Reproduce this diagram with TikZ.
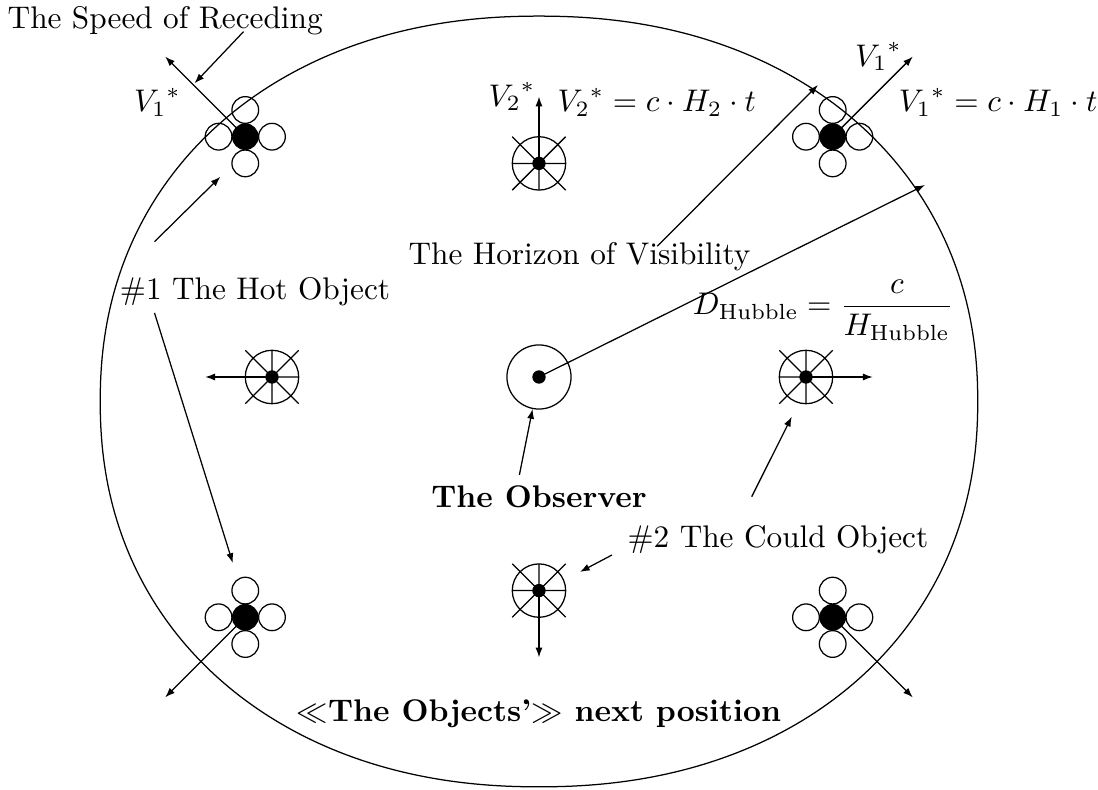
\documentclass[tikz,border=0pt]{standalone}
\usepackage{amsmath,amssymb}
\usetikzlibrary{arrows.meta}

\begin{document}
\begin{tikzpicture}[>={Latex[length=1.1mm, width=0.8mm]}]

\useasboundingbox (-6.056,-4.640) rectangle (6.281,4.236);

% Horizon of visibility
\draw plot[domain=0.5:359.5, samples=360] ({4.93*cos(\x)*pow(abs(cos(\x)),-0.07)}, {-0.275+4.33*sin(\x)*pow(abs(sin(\x)),-0.07)}) -- cycle;

% Observer
\node[circle, draw, minimum size=0.72cm, inner sep=0pt] (obs) at (0,0) {};
\fill (obs) circle (0.075);

% Cold objects
\coordinate (cT) at (0,2.4);
\coordinate (cB) at (0,-2.4);
\coordinate (cL) at (-3,0);
\coordinate (cR) at (3,0);
\foreach \c in {cT,cB,cL,cR}{
  \begin{scope}[shift={(\c)}]
    \draw (0,0) circle (0.3);
    \draw (-0.3,-0.3) -- (0.3,0.3) (-0.3,0.3) -- (0.3,-0.3) (-0.3,0) -- (0.3,0) (0,-0.3) -- (0,0.3);
    \fill (0,0) circle (0.075);
  \end{scope}
}

% Hot objects
\coordinate (hTL) at (-3.3,2.7);
\coordinate (hTR) at (3.3,2.7);
\coordinate (hBL) at (-3.3,-2.7);
\coordinate (hBR) at (3.3,-2.7);
\foreach \h in {hTL,hTR,hBL,hBR}{
  \begin{scope}[shift={(\h)}]
    \foreach \a in {0,90,180,270} \draw (\a:0.3) circle (0.15);
    \fill (0,0) circle (0.15);
  \end{scope}
}

% Receding speeds
\coordinate (vT) at (0,3.15);
\coordinate (vB) at (0,-3.15);
\coordinate (vL) at (-3.75,0);
\coordinate (vR) at (3.75,0);
\coordinate (vTL) at (-4.2,3.6);
\coordinate (vTR) at (4.2,3.6);
\coordinate (vBL) at (-4.2,-3.6);
\coordinate (vBR) at (4.2,-3.6);
\draw[->] (cT) -- (vT);
\draw[->] (cB) -- (vB);
\draw[->] (cL) -- (vL);
\draw[->] (cR) -- (vR);
\draw[->] (hTL) -- (vTL);
\draw[->] (hTR) -- (vTR);
\draw[->] (hBL) -- (vBL);
\draw[->] (hBR) -- (vBR);

\node[left, inner sep=1pt] (lV2) at (vT) {${V_2}^*$};
\node[anchor=base west] (eqV2) at (0.085,2.98) {${V_2}^* = c\cdot H_2\cdot t$};
\node[left] (lV1R) at (vTR) {${V_1}^*$};
\node[anchor=base west] (eqV1) at (3.92,2.98) {${V_1}^* = c\cdot H_1\cdot t$};
\node[anchor=base east] (lV1L) at (-3.90,2.98) {${V_1}^*$};

% The speed of receding
\node (speed) at (-4.2,4.0) {The Speed of Receding};
\coordinate (spdA) at (-3.32,3.88);
\coordinate (spdB) at (-3.87,3.30);
\draw[->] (spdA) -- (spdB);

% The hot object
\node (hot) at (-3.19,0.955) {\#1 The Hot Object};
\coordinate (hotU) at (-4.32,1.52);
\coordinate (hotUt) at (-3.58,2.25);
\coordinate (hotD) at (-4.32,0.72);
\coordinate (hotDt) at (-3.44,-2.09);
\draw[->] (hotU) -- (hotUt);
\draw[->] (hotD) -- (hotDt);

% The horizon
\node (hor) at (0.455,1.35) {The Horizon of Visibility};
\coordinate (horA) at (1.33,1.47);
\coordinate (horB) at (3.135,3.281);
\coordinate (horC) at (4.337,2.157);
\draw[->] (horA) -- (horB);
\draw[->] (obs.center) -- (horC);
\node[anchor=east] (dh) at (4.78,0.75) {$D_{\text{Hubble}} = \dfrac{c}{H_{\text{Hubble}}}$};

% The observer
\node[font=\bfseries] (obsT) at (0,-1.35) {The Observer};
\coordinate (obsA) at (-0.22,-1.1);
\draw[->] (obsA) -- (obs);

% The cold object
\node (cold) at (2.685,-1.83) {\#2 The Could Object};
\coordinate (coldA) at (2.39,-1.345);
\coordinate (coldAt) at (2.84,-0.446);
\coordinate (coldB) at (0.82,-2.0);
\coordinate (coldBt) at (0.46,-2.19);
\draw[->] (coldA) -- (coldAt);
\draw[->] (coldB) -- (coldBt);

% Next position
\node[font=\bfseries] (next) at (0,-3.78) {$\ll$The Objects'$\gg$ next position};

\end{tikzpicture}
\end{document}
